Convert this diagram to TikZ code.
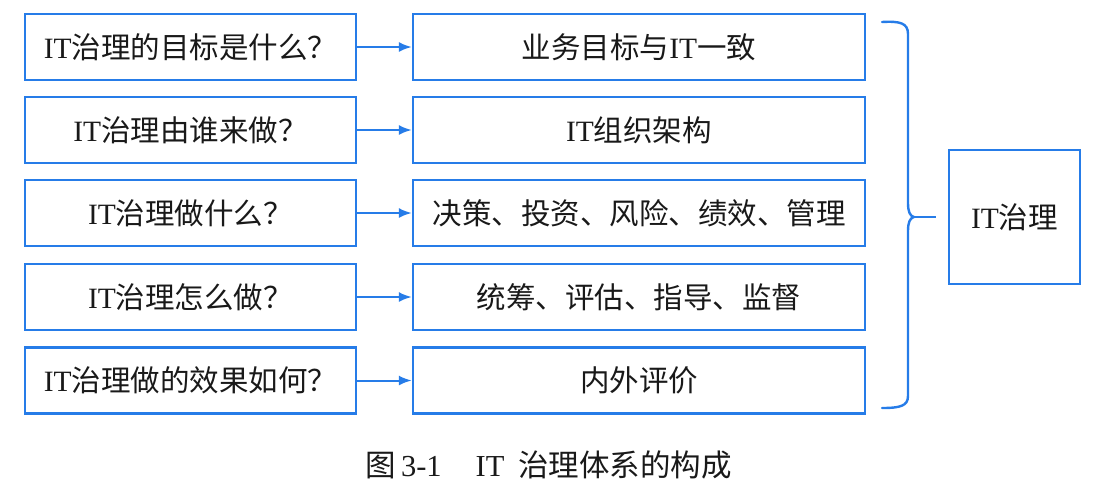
\documentclass[tikz,border=0pt]{standalone}
\usepackage{fontspec}
\usetikzlibrary{arrows.meta}
\setmainfont{Liberation Serif}
\newfontfamily\cjk{Noto Sans CJK SC}
\newcommand\zh[1]{{\cjk #1}}
\definecolor{lineblue}{RGB}{38,124,232}
\definecolor{txt}{RGB}{25,25,25}
\begin{document}
\begin{tikzpicture}[x=1pt,y=-1pt,
  box/.style={draw=lineblue,line width=2.4pt,minimum height=66pt,inner sep=0pt,text=txt,font=\fontsize{29.5}{32}\selectfont},
  qbox/.style={box,minimum width=331pt},
  abox/.style={box,minimum width=452pt},
  conn/.style={draw=lineblue,line width=2pt,-{Latex[length=13pt,width=10pt]}}]
\useasboundingbox (0,0) rectangle (1100,496);
\node[qbox] (q1) at (190.5,47) {IT\zh{治理的目标是什么？}};
\node[qbox] (q2) at (190.5,130) {IT\zh{治理由谁来做？}};
\node[qbox] (q3) at (190.5,213) {IT\zh{治理做什么？}};
\node[qbox] (q4) at (190.5,297) {IT\zh{治理怎么做？}};
\node[qbox] (q5) at (190.5,380.5) {IT\zh{治理做的效果如何？}};
\node[abox] (a1) at (639,47) {\zh{业务目标与}IT\zh{一致}};
\node[abox] (a2) at (639,130) {IT\zh{组织架构}};
\node[abox] (a3) at (639,213) {\zh{决策、投资、风险、绩效、管理}};
\node[abox] (a4) at (639,297) {\zh{统筹、评估、指导、监督}};
\node[abox] (a5) at (639,380.5) {\zh{内外评价}};
\foreach \i in {1,...,5} \draw[conn] (q\i) -- (a\i);
\node[box,minimum width=131pt,minimum height=134pt] (gov) at (1014.5,217) {IT\zh{治理}};
\coordinate (tip) at (914,217);
\coordinate (bend) at (936,217);
\draw[draw=lineblue,line width=2.4pt,line cap=round]
  (882,22) .. controls (900,21) and (908,23) .. (908,34) -- (908,203)
  .. controls (908,212) and (910,216) .. (tip)
  .. controls (910,218) and (908,222) .. (908,231) -- (908,396)
  .. controls (908,406) and (900,408) .. (882,408);
\draw[draw=lineblue,line width=2.4pt] (tip) -- (bend);
\node[text=txt,font=\fontsize{30.5}{32}\selectfont,anchor=west] (cap) at (362,465) {\zh{图}\hspace{5pt}3-1\hspace{34pt}IT\hspace{14pt}\zh{治理体系的构成}};
\end{tikzpicture}
\end{document}
